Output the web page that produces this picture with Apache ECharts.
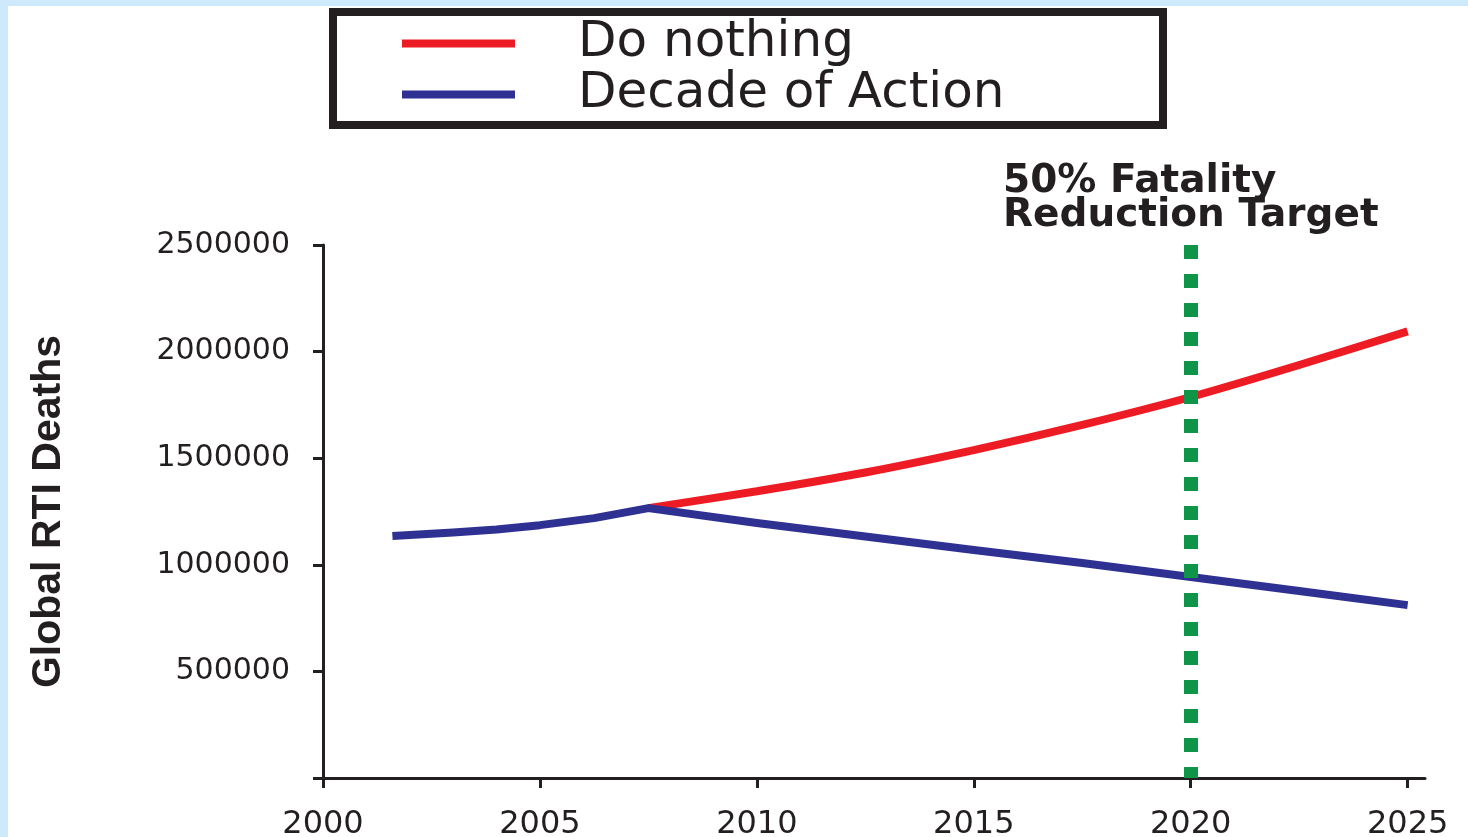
<!DOCTYPE html>
<html>
<head>
<meta charset="utf-8">
<style>
  html, body { margin: 0; padding: 0; background: #cde9fb; }
  #chart { width: 1468px; height: 837px; }
</style>
<script src="https://cdn.jsdelivr.net/npm/echarts@6/dist/echarts.min.js"></script>
</head>
<body>
<div id="chart"></div>
<script>
// ---- data ----
const doNothingYears = [2007.5, 2010, 2012.5, 2015, 2017.5, 2020, 2022.5, 2025];
const doNothingDeaths = [1266000, 1345000, 1433000, 1538000, 1656000, 1787000, 1937000, 2095000];
const decadeYears = [2001.6, 2003, 2004, 2005, 2006.25, 2007.5, 2010, 2012.5, 2015, 2017.5, 2020, 2022.5, 2025];
const decadeDeaths = [1135000, 1152000, 1166000, 1186000, 1219000, 1266000, 1196000, 1133000, 1069000, 1008000, 943000, 877000, 811000];
const xTickLabels = [2000, 2005, 2010, 2015, 2020, 2025];
const yTickLabels = [500000, 1000000, 1500000, 2000000, 2500000];
const yTicks = [0, 500000, 1000000, 1500000, 2000000, 2500000];
const targetYear = 2020;
const seriesNames = ['Do nothing', 'Decade of Action'];
const yAxisTitle = 'Global RTI Deaths';
const targetText = '50% Fatality\nReduction Target';

const pairs = (xs, ys) => xs.map((x, i) => [x, ys[i]]);
const INK = '#231f20';

const chart = echarts.init(document.getElementById('chart'), null, { renderer: 'canvas' });
chart.setOption({
  backgroundColor: '#cde9fb',
  animation: false,
  graphic: [{
    type: 'rect', z: -10, silent: true,
    shape: { x: 8, y: 6, width: 1460, height: 831 },
    style: { fill: '#ffffff' }
  }],
  title: {
    text: targetText,
    left: 998, top: 160,
    textStyle: { fontFamily: 'DejaVu Sans', fontWeight: 'bold', fontSize: 39, lineHeight: 34, color: INK }
  },
  legend: {
    data: seriesNames,
    orient: 'vertical',
    left: 333, top: 12,
    padding: [6, 63, 5, 69],
    itemGap: 0,
    itemWidth: 113, itemHeight: 8,
    icon: 'rect',
    borderColor: INK, borderWidth: 8,
    backgroundColor: '#ffffff',
    textStyle: {
      fontFamily: 'DejaVu Sans', fontSize: 50, color: INK,
      lineHeight: 51, width: 522, padding: [0, 0, 0, 58]
    }
  },
  grid: { left: 323, right: 43, top: 245, bottom: 59, containLabel: false, outerBoundsMode: 'none' },
  xAxis: {
    type: 'value', min: 2000, max: 2025.4,
    splitLine: { show: false },
    axisLine: { show: true, lineStyle: { color: INK, width: 3 } },
    axisTick: { show: true, length: 10, lineStyle: { color: INK, width: 3 }, customValues: xTickLabels },
    axisLabel: {
      customValues: xTickLabels, margin: 31,
      formatter: v => String(v),
      fontFamily: 'DejaVu Sans', fontSize: 32, color: INK
    }
  },
  yAxis: {
    type: 'value', min: 0, max: 2500000, interval: 500000,
    name: yAxisTitle, nameLocation: 'middle', nameGap: 254, nameRotate: 90,
    nameTextStyle: { fontFamily: 'Liberation Sans', fontWeight: 'bold', fontSize: 41, color: INK },
    splitLine: { show: false },
    axisLine: { show: true, lineStyle: { color: INK, width: 3 } },
    axisTick: { show: true, length: 10, lineStyle: { color: INK, width: 3 }, customValues: yTicks },
    axisLabel: {
      customValues: yTickLabels, margin: 33,
      formatter: v => String(v),
      fontFamily: 'DejaVu Sans', fontSize: 30, color: INK
    }
  },
  series: [
    {
      name: seriesNames[0], type: 'line', data: pairs(doNothingYears, doNothingDeaths),
      smooth: 0.3, showSymbol: false, symbol: 'none', z: 2,
      lineStyle: { color: '#ed1c24', width: 8 }, itemStyle: { color: '#ed1c24' }
    },
    {
      name: seriesNames[1], type: 'line', data: pairs(decadeYears, decadeDeaths),
      smooth: false, showSymbol: false, symbol: 'none', z: 3,
      lineStyle: { color: '#2e3192', width: 8, join: 'round' }, itemStyle: { color: '#2e3192' }
    },
    {
      name: 'target', type: 'line', data: [], z: 4, silent: true,
      markLine: {
        silent: true, symbol: 'none', animation: false,
        label: { show: false },
        lineStyle: { color: '#0f9548', width: 14, type: [14, 15], cap: 'butt' },
        data: [[{ coord: [targetYear, 2500000] }, { coord: [targetYear, 0] }]]
      }
    }
  ]
});
</script>
</body>
</html>
